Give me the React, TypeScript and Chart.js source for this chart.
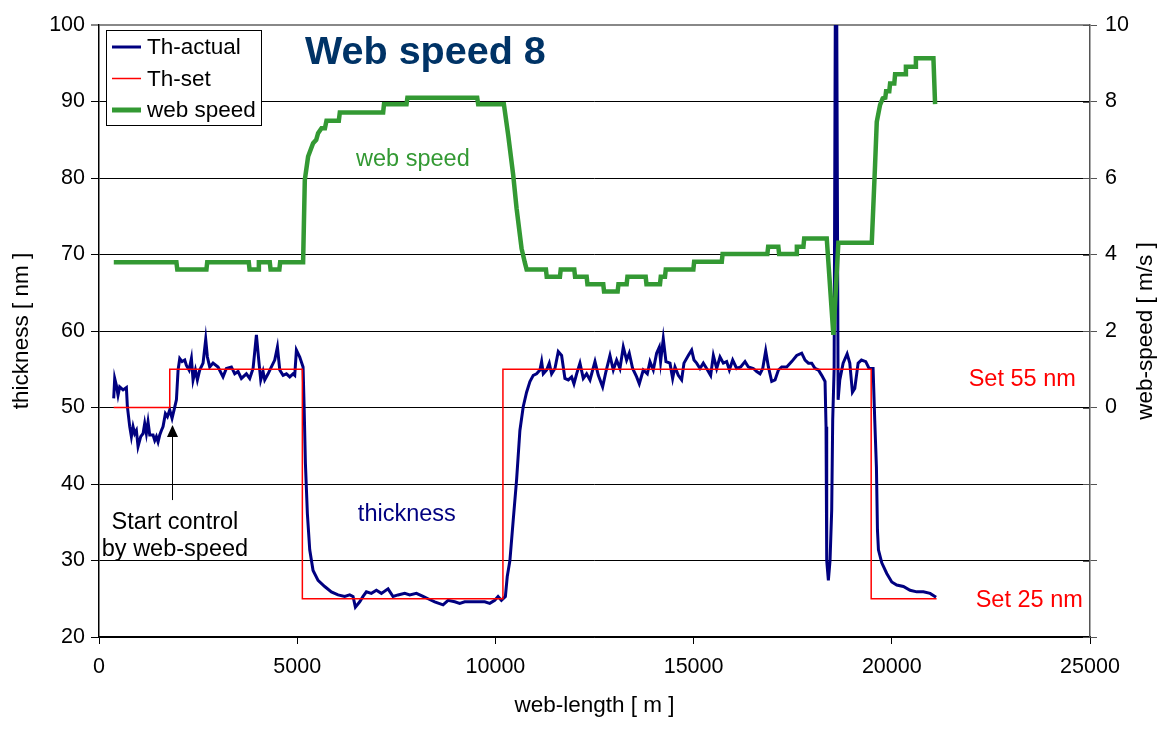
import { useEffect, useRef } from 'react';
import { Chart, registerables } from 'chart.js';

Chart.register(...registerables);

const FONT = "'Liberation Sans', Arial, Helvetica, sans-serif";
const NAVY = '#000080';
const RED = '#ff0000';
const GREEN = '#339933';

// x-axis tick values
const xTicks = [0, 5000, 10000, 15000, 20000, 25000];

// Th-actual: web-length [m] and thickness [nm]
const thickX = [371,396,438,480,522,607,691,716,775,817,859,901,943,985,1052,1112,1153,1195,1237,1280,1364,1406,1448,1490,1532,1574,1616,1675,1726,1784,1843,1894,1953,1995,2037,2096,2163,2205,2272,2331,2373,2432,2482,2541,2625,2692,2734,2793,2877,3003,3129,3213,3340,3424,3508,3592,3718,3802,3887,3971,4030,4080,4139,4181,4265,4349,4433,4501,4560,4644,4728,4812,4896,4938,4980,5064,5148,5173,5207,5257,5316,5400,5526,5694,5862,6030,6199,6325,6409,6468,6577,6661,6745,6871,6998,7124,7292,7418,7544,7713,7839,8007,8175,8301,8469,8680,8806,8974,9100,9226,9394,9563,9731,9857,9983,10067,10151,10252,
  10299,10366,10450,10534,10618,10702,10787,10871,10955,11039,11123,11166,11208,11292,11359,11418,11502,11586,11670,11754,11839,11923,11982,12049,12133,12217,12301,12386,12512,12596,12705,12789,12890,12974,13058,13142,13226,13310,13377,13462,13563,13630,13731,13832,13899,13983,14067,14135,14168,14235,14303,14404,14471,14530,14614,14698,14757,14866,14951,15010,15077,15161,15245,15329,15430,15498,15582,15666,15750,15834,15902,15986,16087,16188,16297,16382,16508,16592,16676,16744,16819,16887,16971,17055,17139,17223,17349,17475,17601,17727,17812,17896,17980,18064,18148,18232,18316,18341,18358,18400,18442,18484,18509,18545,18580,18605,18646,18688,18772,18873,18940,19007,19066,19150,19234,19343,19427,19528,19570,19612,19638,19663,19747,19873,19999,20125,20293,20461,20629,20797,20966,21117];
const thickY = [51.2,53.8,52.9,51.6,52.7,52.3,52.6,50.1,47.5,46.2,47.5,46.6,47.0,44.9,46.2,46.6,47.9,46.6,48.1,46.4,46.4,45.7,46.2,45.5,46.4,47.0,47.5,49.2,48.8,49.7,48.6,49.7,51.0,54.9,56.4,56.0,56.2,55.5,54.9,56.4,53.6,54.9,53.6,54.9,55.8,58.9,56.6,55.3,55.8,55.3,54.0,55.1,55.3,54.4,54.7,53.8,54.4,53.8,55.1,59.5,56.2,53.6,54.7,53.6,54.4,55.3,56.2,57.9,54.9,54.2,54.4,54.0,54.4,54.2,57.5,56.6,55.3,50.5,42.7,36.1,31.4,28.7,27.4,26.6,25.9,25.5,25.3,25.5,25.3,23.9,24.6,25.3,25.9,25.7,26.1,25.7,26.3,25.3,25.5,25.7,25.5,25.7,25.3,25.0,24.6,24.2,24.8,24.6,24.4,24.6,24.6,24.6,24.6,24.4,24.8,25.3,24.8,25.3,
  27.9,30.0,35.3,40.5,47.0,50.1,52.0,53.4,54.2,54.4,54.9,56.0,54.4,54.9,55.8,54.4,55.1,57.3,56.8,53.8,53.6,54.0,53.1,54.4,55.8,53.8,54.4,53.6,56.0,54.2,52.7,54.7,56.8,54.9,56.2,55.1,57.9,56.2,57.1,55.1,54.0,53.1,54.9,54.4,56.0,54.9,57.1,57.9,56.0,59.0,56.0,55.8,53.8,55.3,54.2,53.6,55.8,56.8,57.5,56.2,55.8,55.1,55.8,55.1,54.2,56.8,55.1,56.6,55.8,56.0,54.9,56.2,55.1,55.3,56.0,55.3,55.1,54.7,54.4,55.1,57.4,55.3,53.4,53.6,54.9,55.3,55.3,56.0,56.8,57.1,56.2,55.8,55.8,55.1,54.9,54.2,53.4,47.5,30.0,27.4,30.0,36.6,48.3,55.0,110,110,51.0,53.6,55.8,57.0,55.8,52.0,52.5,55.8,56.2,56.0,55.1,55.1,48.3,42.2,34.0,31.4,29.7,28.3,27.2,26.8,26.6,26.1,25.9,25.9,25.7,25.2];

// Th-set
const setX = [371, 1785, 1785, 5130, 5130, 10190, 10190, 19480, 19480, 21130];
const setY = [50, 50, 55, 55, 25, 25, 55, 55, 25, 25];

// web speed [m/s]
const speedX = [373,1953,1975,2710,2730,3778,3798,4013,4033,4308,4328,4550,4570,5149,5192,5275,5401,5480,5527,5613,5700,5739,6050,6075,7168,7190,7758,7780,9541,9565,10214,10323,10449,10534,10660,10740,10787,11275,11295,11628,11648,11990,12010,12302,12322,12721,12741,13084,13104,13311,13331,13791,13811,14152,14172,14278,14298,14994,15014,15711,15731,16861,16881,17138,17158,17585,17605,17770,17790,18359,18526,18652,19495,19578,19621,19704,19771,19836,19856,19937,19957,20063,20083,20336,20356,20588,20608,21050,21092];
const speedY = [3.80,3.80,3.61,3.61,3.80,3.80,3.61,3.61,3.80,3.80,3.61,3.61,3.80,3.80,5.95,6.56,6.91,7.00,7.17,7.30,7.30,7.50,7.50,7.71,7.71,7.93,7.93,8.10,8.10,7.93,7.93,7.12,6.08,5.21,4.16,3.80,3.61,3.61,3.42,3.42,3.61,3.61,3.42,3.42,3.22,3.22,3.03,3.03,3.22,3.22,3.42,3.42,3.22,3.22,3.42,3.42,3.61,3.61,3.81,3.81,4.01,4.01,4.20,4.20,4.01,4.01,4.20,4.20,4.42,4.42,1.90,4.31,4.31,6.34,7.47,7.91,8.08,8.10,8.27,8.27,8.47,8.47,8.71,8.71,8.91,8.91,9.13,9.13,7.93];

const legendItems = [
  { label: 'Th-actual', color: NAVY, width: 3 },
  { label: 'Th-set', color: RED, width: 1.5 },
  { label: 'web speed', color: GREEN, width: 5 },
];

const toPts = (xs: number[], ys: number[]) => xs.map((x, i) => ({ x, y: ys[i] }));

const overlay = {
  id: 'overlay',
  afterDraw(chart: any) {
    const { ctx, scales, chartArea } = chart;
    const sx = scales.x, sy = scales.y, s2 = scales.y2;
    ctx.save();

    // inner tick marks of right axis
    ctx.strokeStyle = '#555';
    ctx.lineWidth = 1;
    for (let v = -6; v <= 10; v += 2) {
      const py = Math.round(s2.getPixelForValue(v)) + 0.5;
      ctx.beginPath();
      ctx.moveTo(chartArea.right - 7, py);
      ctx.lineTo(chartArea.right, py);
      ctx.stroke();
    }

    // legend
    const lx = 106, ly = 30, lw = 155, lh = 95;
    ctx.fillStyle = '#fff';
    ctx.fillRect(lx, ly, lw, lh);
    ctx.strokeStyle = '#000';
    ctx.lineWidth = 1;
    ctx.strokeRect(lx + 0.5, ly + 0.5, lw, lh);
    ctx.font = `22.5px ${FONT}`;
    ctx.textAlign = 'left';
    ctx.textBaseline = 'middle';
    legendItems.forEach((it, i) => {
      const yy = 47 + i * 31.5;
      ctx.strokeStyle = it.color;
      ctx.lineWidth = it.width;
      ctx.beginPath();
      ctx.moveTo(112, yy);
      ctx.lineTo(141, yy);
      ctx.stroke();
      ctx.fillStyle = '#000';
      ctx.fillText(it.label, 147, yy + 1);
    });

    // title
    ctx.fillStyle = '#003366';
    ctx.font = `bold 39.5px ${FONT}`;
    ctx.textBaseline = 'alphabetic';
    ctx.fillText('Web speed 8', 305, 64);

    // axis titles
    ctx.fillStyle = '#000';
    ctx.font = `22.5px ${FONT}`;
    ctx.textAlign = 'center';
    ctx.textBaseline = 'middle';
    const midY = (chartArea.top + chartArea.bottom) / 2;
    ctx.save();
    ctx.translate(22, midY);
    ctx.rotate(-Math.PI / 2);
    ctx.fillText('thickness [ nm ]', 0, 0);
    ctx.restore();
    ctx.save();
    ctx.translate(1146, midY);
    ctx.rotate(-Math.PI / 2);
    ctx.fillText('web-speed [ m/s ]', 0, 0);
    ctx.restore();
    ctx.fillText('web-length [ m ]', (chartArea.left + chartArea.right) / 2, 706);

    // annotations
    ctx.font = `23.5px ${FONT}`;
    ctx.fillStyle = GREEN;
    ctx.fillText('web speed', sx.getPixelForValue(7918), sy.getPixelForValue(82.4));
    ctx.fillStyle = NAVY;
    ctx.fillText('thickness', sx.getPixelForValue(7766), sy.getPixelForValue(36.0));
    ctx.fillStyle = RED;
    ctx.fillText('Set 55 nm', sx.getPixelForValue(23290), sy.getPixelForValue(53.7));
    ctx.fillText('Set 25 nm', sx.getPixelForValue(23467), sy.getPixelForValue(24.8));
    ctx.fillStyle = '#000';
    ctx.fillText('Start control', sx.getPixelForValue(1916), sy.getPixelForValue(35.0));
    ctx.fillText('by web-speed', sx.getPixelForValue(1916), sy.getPixelForValue(31.5));

    // arrow
    const ax = Math.round(sx.getPixelForValue(1853)) + 0.5;
    const tip = sy.getPixelForValue(47.7);
    const base = sy.getPixelForValue(37.9);
    ctx.strokeStyle = '#000';
    ctx.lineWidth = 1;
    ctx.beginPath();
    ctx.moveTo(ax, base);
    ctx.lineTo(ax, tip + 10);
    ctx.stroke();
    ctx.fillStyle = '#000';
    ctx.beginPath();
    ctx.moveTo(ax, tip);
    ctx.lineTo(ax - 5.5, tip + 12);
    ctx.lineTo(ax + 5.5, tip + 12);
    ctx.closePath();
    ctx.fill();

    ctx.restore();
  },
};

export default function App() {
  const ref = useRef<HTMLCanvasElement | null>(null);
  useEffect(() => {
    if (!ref.current) return;
    const tickFont = { family: FONT, size: 21.5 };
    const chart = new Chart(ref.current, {
      type: 'line',
      data: {
        datasets: [
          { label: 'Th-actual', data: toPts(thickX, thickY), borderColor: NAVY, borderWidth: 3, pointRadius: 0, yAxisID: 'y', order: 3, tension: 0 },
          { label: 'Th-set', data: toPts(setX, setY), borderColor: RED, borderWidth: 1.5, pointRadius: 0, yAxisID: 'y', order: 2, tension: 0 },
          { label: 'web speed', data: toPts(speedX, speedY), borderColor: GREEN, borderWidth: 4.5, pointRadius: 0, yAxisID: 'y2', order: 1, tension: 0 },
        ],
      },
      options: {
        responsive: false,
        animation: false,
        events: [],
        layout: { padding: { top: 25, left: 0, right: 0, bottom: 0 } },
        plugins: { legend: { display: false }, tooltip: { enabled: false } },
        scales: {
          x: {
            type: 'linear', min: 0, max: 25000,
            afterBuildTicks: (s: any) => { s.ticks = xTicks.map((v) => ({ value: v })); },
            ticks: { font: tickFont, color: '#000', padding: 10, maxRotation: 0, autoSkip: false, callback: (v: any) => String(v) },
            grid: { drawOnChartArea: false, tickLength: 7, color: '#000' },
            border: { color: '#000', width: 1.5 },
            afterFit: (s: any) => { s.height = 94; },
          },
          y: {
            type: 'linear', position: 'left', min: 20, max: 100,
            ticks: { stepSize: 10, font: tickFont, color: '#000', padding: 6, callback: (v: any) => String(v) },
            grid: {
              color: (c: any) => (c.tick && c.tick.value === 100 ? '#888' : '#000'),
              lineWidth: (c: any) => (c.tick && c.tick.value === 100 ? 2 : 1),
              tickLength: 8,
            },
            border: { color: '#000', width: 1.5 },
            afterFit: (s: any) => { s.width = 99; },
          },
          y2: {
            type: 'linear', position: 'right', min: -6, max: 10,
            ticks: { stepSize: 2, font: tickFont, color: '#000', padding: 8, callback: (v: any) => (v >= 0 ? String(v) : '') },
            grid: { drawOnChartArea: false, tickLength: 7, color: '#555' },
            border: { color: '#555', width: 1.5 },
            afterFit: (s: any) => { s.width = 70; },
          },
        },
      },
      plugins: [overlay],
    } as any);
    return () => chart.destroy();
  }, []);
  return (
    <canvas
      ref={ref}
      width={1160}
      height={731}
      style={{ position: 'absolute', left: 0, top: 0, width: 1160, height: 731, display: 'block' }}
    />
  );
}
